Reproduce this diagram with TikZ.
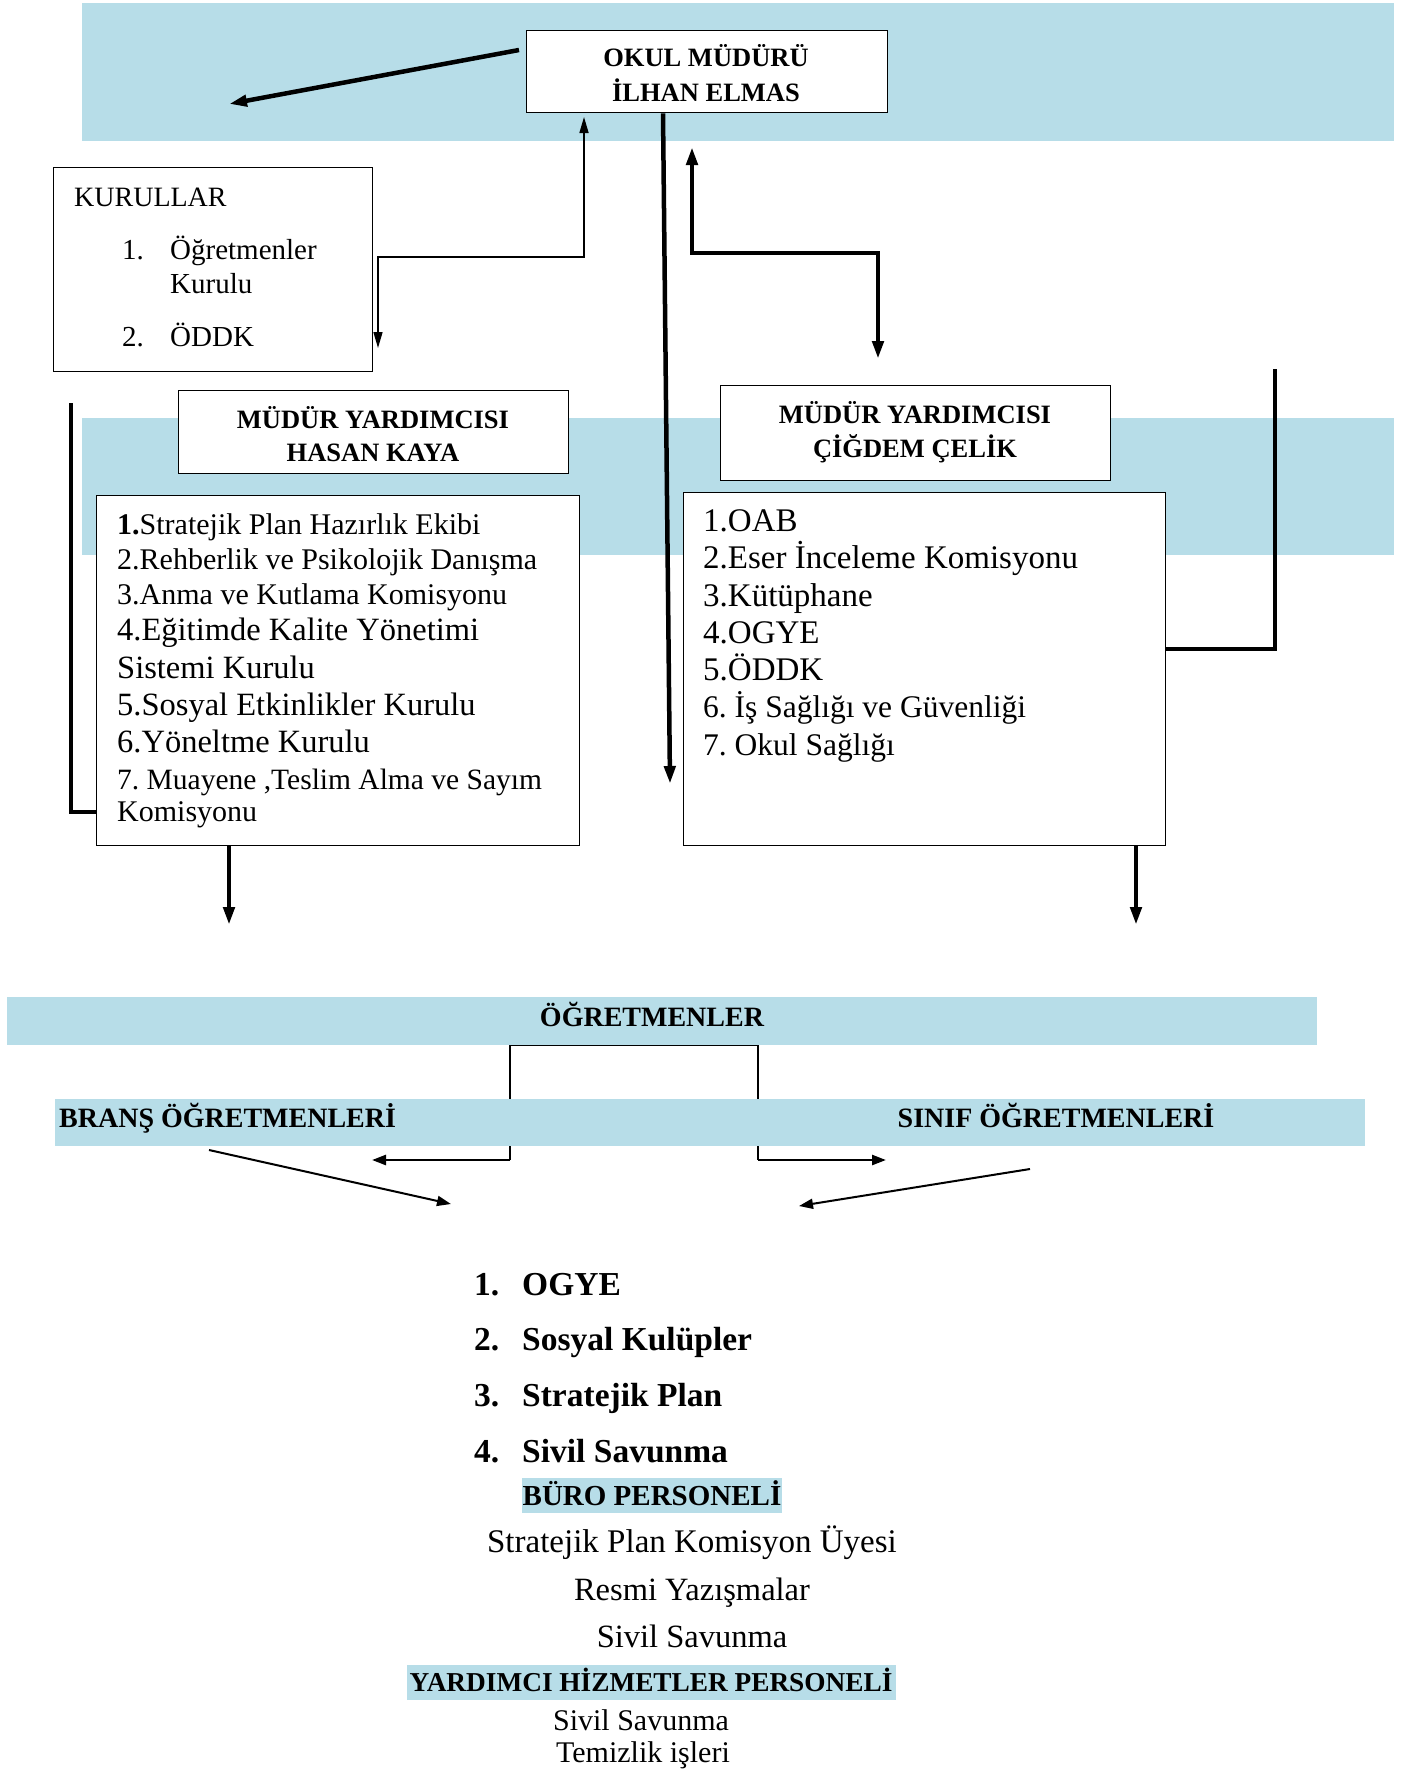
\documentclass[tikz,border=0pt]{standalone}
\usepackage{fontspec}
\setmainfont{Liberation Serif}
\usetikzlibrary{arrows.meta}
\definecolor{bandblue}{HTML}{B7DDE8}
\frenchspacing
\tikzset{
  band/.style={fill=bandblue, draw=none, anchor=north west, inner sep=0pt},
  boxnode/.style={draw=black, line width=1.3pt, fill=white, anchor=north west, inner sep=0pt},
  txt/.style={inner sep=0pt, font=\fontsize{#1}{#1}\selectfont},
  btxt/.style={inner sep=0pt, font=\fontsize{#1}{#1}\selectfont\bfseries},
  heavy/.style={line width=4.5pt},
  medium/.style={line width=2.5pt},
  thinline/.style={line width=1.5pt},
  bigtip/.style={-{Triangle[length=18pt,width=11pt]}},
  midtip/.style={-{Triangle[length=14pt,width=10pt]}},
}
\begin{document}
\begin{tikzpicture}[x=1pt,y=-1pt]
\useasboundingbox (0,0) rectangle (1406,1769);
\fill[white] (0,0) rectangle (1406,1769);
% bands
\node[band, minimum width=1312pt, minimum height=138pt] (topband) at (82,3) {};
\node[band, minimum width=1312pt, minimum height=137pt] (midband) at (82,418) {};

% connectors (top)
\coordinate (a1s) at (519,50);
\coordinate (a1e) at (229,104);
\draw[heavy, bigtip] (a1s) -- (a1e);

\coordinate (kA) at (378,348);
\coordinate (kB) at (584,117);
\coordinate (kM) at (480,257);
\draw[thinline, {Triangle[length=16pt,width=9pt]}-{Triangle[length=16pt,width=9pt]}] (kA) -- (kA |- kM) -- (kB |- kM) -- (kB);

\coordinate (cA) at (692,147);
\coordinate (cB) at (878,359);
\coordinate (cM) at (780,253);
\draw[heavy, {Triangle[length=18pt,width=11pt]}-{Triangle[length=18pt,width=11pt]}] (cA) -- (cA |- cM) -- (cB |- cM) -- (cB);

% boxes
\node[boxnode, minimum width=361pt, minimum height=82pt] (boss) at (526,30) {};
\node[boxnode, minimum width=319pt, minimum height=204pt] (kurullar) at (53,167) {};
\node[boxnode, minimum width=390pt, minimum height=83pt] (vp1) at (178,390) {};
\node[boxnode, minimum width=483pt, minimum height=350pt] (list1) at (96,495) {};
\node[boxnode, minimum width=390pt, minimum height=95pt] (vp2) at (720,385) {};
\node[boxnode, minimum width=482pt, minimum height=353pt] (list2) at (683,492) {};

% long arrow from boss
\coordinate (bd) at (670,784);
\draw[heavy, bigtip] (boss.south -| 663,0) -- (bd);

% brackets
\coordinate (lb) at (71,403);
\draw[heavy] (lb) -- (lb |- 0,812) -- (list1.west |- 0,812);
\coordinate (rb) at (1275,369);
\draw[heavy] (list2.east |- 0,649) -- (rb |- 0,649) -- (rb);

% down arrows
\coordinate (d1) at (229,925);
\coordinate (d2) at (1136,925);
\draw[heavy, bigtip] (list1.south -| d1) -- (d1);
\draw[heavy, bigtip] (list2.south -| d2) -- (d2);

% box texts
\node[btxt=26.5, anchor=base] (bossT1) at (706,66.5) {OKUL MÜDÜRÜ};
\node[btxt=26.5, anchor=base] (bossT2) at (706,101.5) {İLHAN ELMAS};

\node[txt=28, anchor=base west] (kT0) at (74,206) {KURULLAR};
\node[txt=29, anchor=base west] (kN1) at (122,259) {1.};
\node[txt=29, anchor=base west] (kT1) at (170,259) {Öğretmenler};
\node[txt=29, anchor=base west] (kT2) at (170,293) {Kurulu};
\node[txt=29, anchor=base west] (kN2) at (122,346) {2.};
\node[txt=29, anchor=base west] (kT3) at (170,346) {ÖDDK};

\node[btxt=26.5, anchor=base] (vp1T1) at (373,428) {MÜDÜR YARDIMCISI};
\node[btxt=26.5, anchor=base] (vp1T2) at (373,461) {HASAN KAYA};
\node[btxt=26.5, anchor=base] (vp2T1) at (915,423) {MÜDÜR YARDIMCISI};
\node[btxt=26.5, anchor=base] (vp2T2) at (915,457) {ÇİĞDEM ÇELİK};

\node[txt=30, anchor=base west] (l1a) at (117,534) {\textbf{1.}Stratejik Plan Hazırlık Ekibi};
\node[txt=30, anchor=base west] (l1b) at (117,569) {2.Rehberlik ve Psikolojik Danışma};
\node[txt=30, anchor=base west] (l1c) at (117,604) {3.Anma ve Kutlama Komisyonu};
\node[txt=32.5, anchor=base west] (l1d) at (117,640) {4.Eğitimde Kalite Yönetimi};
\node[txt=32.5, anchor=base west] (l1e) at (117,678) {Sistemi Kurulu};
\node[txt=32.5, anchor=base west] (l1f) at (117,715) {5.Sosyal Etkinlikler Kurulu};
\node[txt=32.5, anchor=base west] (l1g) at (117,752) {6.Yöneltme Kurulu};
\node[txt=29.5, anchor=base west] (l1h) at (117,789) {7. Muayene ,Teslim Alma ve Sayım};
\node[txt=30, anchor=base west] (l1i) at (117,821) {Komisyonu};

\node[txt=33, anchor=base west] (l2a) at (703,531) {1.OAB};
\node[txt=33, anchor=base west] (l2b) at (703,568) {2.Eser İnceleme Komisyonu};
\node[txt=33, anchor=base west] (l2c) at (703,606) {3.Kütüphane};
\node[txt=33, anchor=base west] (l2d) at (703,643) {4.OGYE};
\node[txt=33, anchor=base west] (l2e) at (703,680) {5.ÖDDK};
\node[txt=31.5, anchor=base west] (l2f) at (703,717) {6. İş Sağlığı ve Güvenliği};
\node[txt=31.5, anchor=base west] (l2g) at (703,755) {7. Okul Sağlığı};

% teachers
\node[band, minimum width=1310pt, minimum height=48pt] (ogrband) at (7,997) {};
\coordinate (bL) at (510,1160);
\coordinate (bR) at (758,1160);
\draw[line width=1.3pt] (bL) -- (bL |- ogrband.south) -- (bR |- ogrband.south) -- (bR);
\node[band, minimum width=1310pt, minimum height=47pt] (bransband) at (55,1099) {};
\coordinate (bLe) at (372,1160);
\coordinate (bRe) at (886,1160);
\draw[medium, midtip] (bL) -- (bLe);
\draw[medium, midtip] (bR) -- (bRe);

\node[btxt=28, anchor=base] (ogrT) at (652,1026) {ÖĞRETMENLER};
\node[btxt=28, anchor=base west] (bransT) at (59,1127) {BRANŞ ÖĞRETMENLERİ};
\node[btxt=28, anchor=base] (sinifT) at (1056,1127) {SINIF ÖĞRETMENLERİ};

\coordinate (g1s) at (209,1150);
\coordinate (g1e) at (451,1204);
\coordinate (g2s) at (1030,1169);
\coordinate (g2e) at (799,1206);
\draw[line width=2pt, midtip] (g1s) -- (g1e);
\draw[line width=2pt, midtip] (g2s) -- (g2e);

% bottom list
\node[btxt=33.5, anchor=base west] (n1) at (474,1295) {1.};
\node[btxt=33.5, anchor=base west] (t1) at (522,1295) {OGYE};
\node[btxt=33.5, anchor=base west] (n2) at (474,1350) {2.};
\node[btxt=33.5, anchor=base west] (t2) at (522,1350) {Sosyal Kulüpler};
\node[btxt=33.5, anchor=base west] (n3) at (474,1406) {3.};
\node[btxt=33.5, anchor=base west] (t3) at (522,1406) {Stratejik Plan};
\node[btxt=33.5, anchor=base west] (n4) at (474,1462) {4.};
\node[btxt=33.5, anchor=base west] (t4) at (522,1462) {Sivil Savunma};

\node[band, minimum width=260pt, minimum height=35pt] (buroband) at (522,1478) {};
\node[btxt=29, anchor=base] (buroT) at (652,1505) {BÜRO PERSONELİ};
\node[txt=33, anchor=base] (b1) at (692,1552) {Stratejik Plan Komisyon Üyesi};
\node[txt=32.5, anchor=base] (b2) at (692,1600) {Resmi Yazışmalar};
\node[txt=32.5, anchor=base] (b3) at (692,1647) {Sivil Savunma};

\node[band, minimum width=489pt, minimum height=35pt] (yhpband) at (407,1665) {};
\node[btxt=27.3, anchor=base] (yhpT) at (651,1691) {YARDIMCI HİZMETLER PERSONELİ};
\node[txt=30, anchor=base] (y1) at (641,1730) {Sivil Savunma};
\node[txt=30, anchor=base] (y2) at (643,1762) {Temizlik işleri};
\end{tikzpicture}
\end{document}
